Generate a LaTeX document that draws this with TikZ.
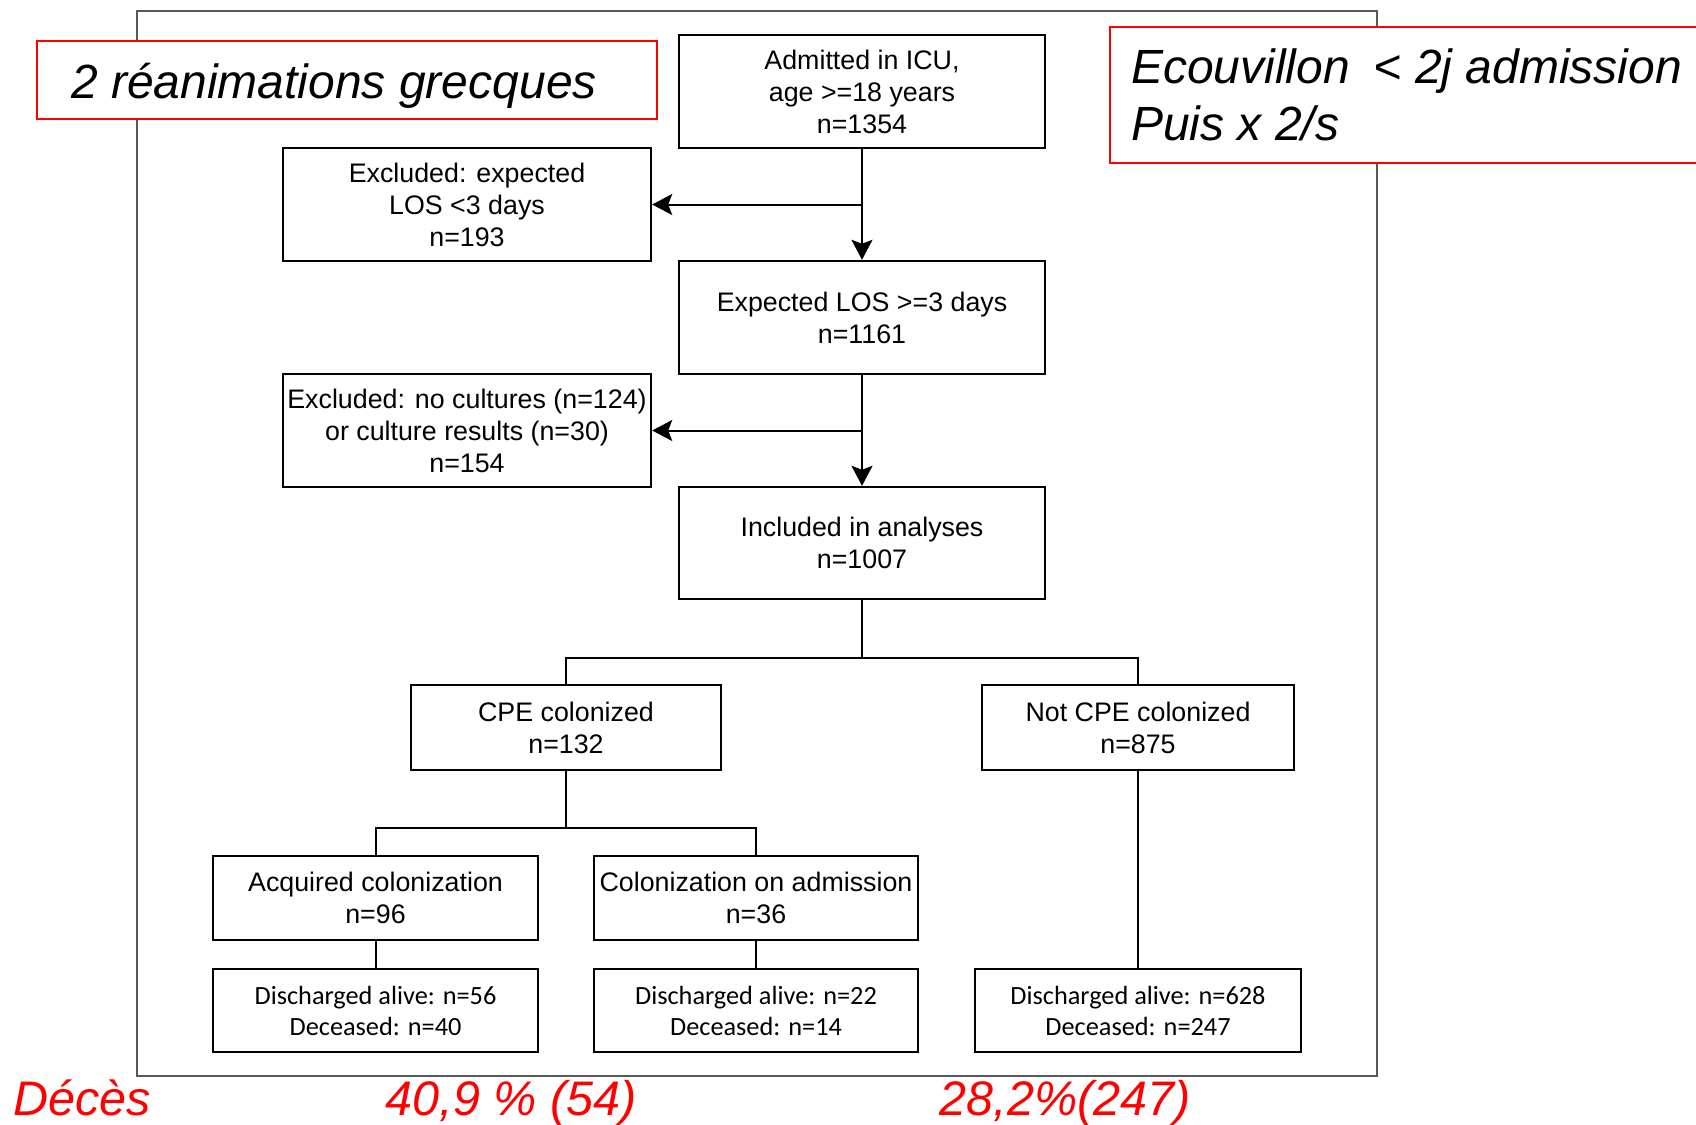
\documentclass[tikz,border=0pt]{standalone}
\usepackage{fontspec}
\setmainfont{Liberation Sans}
\newfontfamily\calfont{Carlito}
\usetikzlibrary{arrows.meta}
\begin{document}
\begin{tikzpicture}[x=1pt,y=-1pt,
  box/.style={draw=black, line width=2.4pt, fill=white, align=center, inner sep=1pt,
    font=\fontsize{26.8}{32}\selectfont},
  dbox/.style={box, font=\calfont\fontsize{26.3}{31}\selectfont},
  conn/.style={line width=2pt, draw=black},
  arr/.style={conn, -{Stealth[length=20pt,width=21pt,inset=4pt]}},
  redbox/.style={draw=red, line width=2pt, fill=white, inner sep=0pt},
  redtxt/.style={inner sep=0pt, font=\itshape\fontsize{48}{54}\selectfont},
  redlbl/.style={inner sep=0pt, text=red, font=\itshape\fontsize{48.5}{54}\selectfont}
]
\useasboundingbox (0,0) rectangle (1696,1124);
\clip (0,0) rectangle (1696,1124);
\fill[white] (0,0) rectangle (1696,1124);

% outer frame
\draw[black!65, line width=1.2pt] (137,11) rectangle (1377,1076);

% red annotation boxes
\node[redbox, minimum width=620pt, minimum height=78pt] (r1) at (347,80) {};
\node[redtxt, anchor=base west] (r1t) at (71,98) {2 réanimations grecques};
\node[redbox, minimum width=610pt, minimum height=136pt, anchor=north west] (r2) at (1109,26) {};
\node[redtxt, anchor=base west] (r2a) at (1131,83) {Ecouvillon\hspace{0.5em}< 2j admission};
\node[redtxt, anchor=base west] (r2b) at (1131,140) {Puis x 2/s};

% flow boxes
\node[box, minimum width=366pt, minimum height=113pt] (adm) at (862,91.5) {Admitted in ICU,\\ age >=18 years\\ n=1354};
\node[box, minimum width=368pt, minimum height=113pt] (exc1) at (467,204.5) {Excluded: expected\\ LOS <3 days\\ n=193};
\node[box, minimum width=366pt, minimum height=113pt] (exp) at (862,317.5) {Expected LOS >=3 days\\ n=1161};
\node[box, minimum width=368pt, minimum height=113pt] (exc2) at (467,430.5) {Excluded: no cultures (n=124)\\ or culture results (n=30)\\ n=154};
\node[box, minimum width=366pt, minimum height=112pt] (inc) at (862,543) {Included in analyses\\ n=1007};
\node[box, minimum width=310pt, minimum height=85pt] (cpe) at (566,727.5) {CPE colonized\\ n=132};
\node[box, minimum width=312pt, minimum height=85pt] (ncpe) at (1138,727.5) {Not CPE colonized\\ n=875};
\node[box, minimum width=325pt, minimum height=84pt] (acq) at (375.5,898) {Acquired colonization\\ n=96};
\node[box, minimum width=324pt, minimum height=84pt] (coa) at (756,898) {Colonization on admission\\ n=36};
\node[dbox, minimum width=325pt, minimum height=83pt] (d1) at (375.5,1010.5) {Discharged alive: n=56\\ Deceased: n=40};
\node[dbox, minimum width=324pt, minimum height=83pt] (d2) at (756,1010.5) {Discharged alive: n=22\\ Deceased: n=14};
\node[dbox, minimum width=326pt, minimum height=83pt] (d3) at (1138,1010.5) {Discharged alive: n=628\\ Deceased: n=247};

% connectors
\draw[arr] (adm) -- (exp);
\draw[arr] (adm.south |- exc1.east) -- (exc1.east);
\draw[arr] (exp) -- (inc);
\draw[arr] (exp.south |- exc2.east) -- (exc2.east);
\draw[conn] (inc.south) -- ++(0,58) coordinate (b1);
\draw[conn] (cpe.north) |- (b1) -| (ncpe.north);
\draw[conn] (cpe.south) -- ++(0,57) coordinate (b2);
\draw[conn] (acq.north) |- (b2) -| (coa.north);
\draw[conn] (acq) -- (d1);
\draw[conn] (coa) -- (d2);
\draw[conn] (ncpe) -- (d3);

% bottom labels
\node[redlbl, anchor=base west] (deces) at (13,1115) {Décès};
\node[redlbl, anchor=base] (p1) at (511,1115) {40,9 \% (54)};
\node[redlbl, anchor=base] (p2) at (1065,1115) {28,2\%(247)};
\end{tikzpicture}
\end{document}
